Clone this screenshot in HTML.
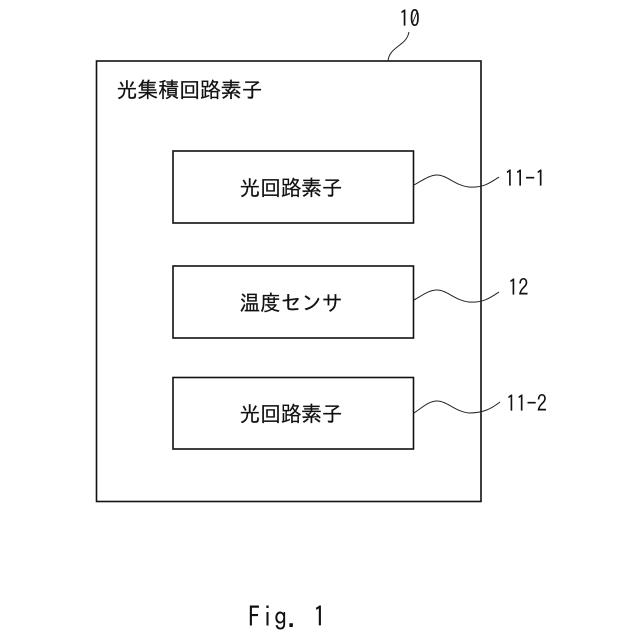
<!DOCTYPE html>
<html lang="ja">
<head>
<meta charset="utf-8">
<style>
html,body{margin:0;padding:0;background:#fff;width:640px;height:640px;overflow:hidden}
svg{display:block}
text{font-family:"IPAGothic","Liberation Sans","Noto Sans CJK JP",sans-serif;fill:#111}
</style>
</head>
<body>
<svg width="640" height="640" viewBox="0 0 640 640" xmlns="http://www.w3.org/2000/svg">
<g fill="none" stroke="#111" stroke-width="1.6">
<rect x="96.5" y="61" width="384.5" height="440.5"/>
<rect x="173" y="151" width="240.5" height="72"/>
<rect x="173" y="266" width="240.5" height="72"/>
<rect x="173" y="377.5" width="240.5" height="71.5"/>
</g>
<g fill="none" stroke="#222" stroke-width="1">
<path d="M388 61C389 52 395 49 401 44C406 40 408 37 409 32"/>
<path d="M414 185C423 180 430 175 437 175C447 175 456 186 469 187C483 188 490 183 499 177"/>
<path d="M414 300C423 295 429 290 437 290C447 290 456 301 469 302C483 303 490 298 499 292"/>
<path d="M414 413C423 407 429 401 437 401C447 401 456 412 469 413C483 413 491 409 500 402"/>
</g>
<g font-size="21.5" stroke="#111" stroke-width="0.2">
<text x="116.5" y="97.5" textLength="146" lengthAdjust="spacingAndGlyphs">光集積回路素子</text>
<text x="239.5" y="195.5" textLength="103" lengthAdjust="spacingAndGlyphs">光回路素子</text>
<text x="239.5" y="310.5" textLength="103" lengthAdjust="spacingAndGlyphs">温度センサ</text>
<text x="239.5" y="421.5" textLength="103" lengthAdjust="spacingAndGlyphs">光回路素子</text>
</g>
<g font-size="23">
<text x="399" y="26.5" textLength="21" lengthAdjust="spacingAndGlyphs">10</text>
<text x="504.5" y="186.5" textLength="41" lengthAdjust="spacingAndGlyphs">11-1</text>
<text x="508" y="295.5" textLength="20.5" lengthAdjust="spacingAndGlyphs">12</text>
<text x="506" y="411.5" textLength="41" lengthAdjust="spacingAndGlyphs">11-2</text>
</g>
<text x="248" y="627" font-size="28" textLength="78" lengthAdjust="spacingAndGlyphs">Fig. 1</text>
</svg>
</body>
</html>
